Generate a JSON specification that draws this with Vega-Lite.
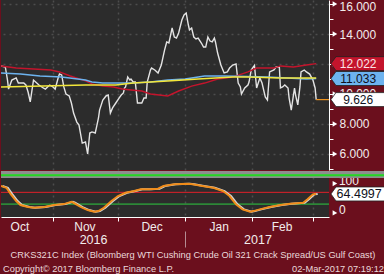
{
  "$schema": "https://vega.github.io/schema/vega-lite/v6.json",
  "background": "#6b0f1d",
  "padding": 0,
  "spacing": 0,
  "config": {
    "view": {"stroke": null},
    "font": "Liberation Sans",
    "axis": {"labelFont": "Liberation Sans", "labelFontSize": 12, "labelColor": "#f2ecec", "domainColor": "#ffffff", "tickColor": "#ffffff", "gridColor": "#4d4d4d", "gridDash": [2, 4], "gridWidth": 1.5}
  },
  "datasets": {
    "price": [
      {"date": "2016-10-08T00:00", "value": 11.87}, {"date": "2016-10-10T00:00", "value": 11.8}, {"date": "2016-10-11T00:00", "value": 10.93}, {"date": "2016-10-11T12:00", "value": 10.33},
      {"date": "2016-10-13T00:00", "value": 10.93}, {"date": "2016-10-15T00:00", "value": 11.07}, {"date": "2016-10-16T00:00", "value": 10.73}, {"date": "2016-10-18T12:00", "value": 10.73},
      {"date": "2016-10-19T12:00", "value": 10.6}, {"date": "2016-10-20T12:00", "value": 10.13}, {"date": "2016-10-21T12:00", "value": 9.47}, {"date": "2016-10-23T00:00", "value": 10.93},
      {"date": "2016-10-24T00:00", "value": 10.8}, {"date": "2016-10-25T12:00", "value": 10.6}, {"date": "2016-10-27T12:00", "value": 10.4}, {"date": "2016-10-28T12:00", "value": 10.33},
      {"date": "2016-10-29T12:00", "value": 10.47}, {"date": "2016-10-30T12:00", "value": 10.6}, {"date": "2016-11-01T00:00", "value": 10.47}, {"date": "2016-11-02T00:00", "value": 10.33},
      {"date": "2016-11-03T12:00", "value": 11.13}, {"date": "2016-11-04T00:00", "value": 11.33}, {"date": "2016-11-05T00:00", "value": 11.27}, {"date": "2016-11-06T00:00", "value": 10.47},
      {"date": "2016-11-07T00:00", "value": 10.0}, {"date": "2016-11-08T12:00", "value": 9.87}, {"date": "2016-11-09T12:00", "value": 9.4}, {"date": "2016-11-10T12:00", "value": 8.73},
      {"date": "2016-11-12T00:00", "value": 8.13}, {"date": "2016-11-13T00:00", "value": 7.93}, {"date": "2016-11-14T12:00", "value": 6.73}, {"date": "2016-11-16T00:00", "value": 6.8},
      {"date": "2016-11-17T00:00", "value": 6.0}, {"date": "2016-11-18T00:00", "value": 7.4}, {"date": "2016-11-19T00:00", "value": 7.47}, {"date": "2016-11-20T12:00", "value": 7.4},
      {"date": "2016-11-21T00:00", "value": 7.73}, {"date": "2016-11-22T00:00", "value": 8.4}, {"date": "2016-11-22T12:00", "value": 8.93}, {"date": "2016-11-24T00:00", "value": 9.6},
      {"date": "2016-11-25T12:00", "value": 9.87}, {"date": "2016-11-26T12:00", "value": 9.93}, {"date": "2016-11-27T12:00", "value": 8.73}, {"date": "2016-11-28T12:00", "value": 9.07},
      {"date": "2016-11-30T00:00", "value": 9.4}, {"date": "2016-12-01T12:00", "value": 9.73}, {"date": "2016-12-02T12:00", "value": 9.93}, {"date": "2016-12-03T12:00", "value": 10.07},
      {"date": "2016-12-04T00:00", "value": 10.4}, {"date": "2016-12-04T12:00", "value": 10.47}, {"date": "2016-12-05T12:00", "value": 11.13}, {"date": "2016-12-06T12:00", "value": 10.93},
      {"date": "2016-12-07T00:00", "value": 11.0}, {"date": "2016-12-08T00:00", "value": 10.8}, {"date": "2016-12-09T00:00", "value": 10.8}, {"date": "2016-12-10T00:00", "value": 9.4},
      {"date": "2016-12-11T00:00", "value": 9.4}, {"date": "2016-12-12T00:00", "value": 9.4}, {"date": "2016-12-13T00:00", "value": 9.73}, {"date": "2016-12-14T00:00", "value": 9.73},
      {"date": "2016-12-14T12:00", "value": 10.8}, {"date": "2016-12-16T00:00", "value": 11.6}, {"date": "2016-12-16T12:00", "value": 11.73}, {"date": "2016-12-18T00:00", "value": 11.6},
      {"date": "2016-12-19T12:00", "value": 11.4}, {"date": "2016-12-21T00:00", "value": 11.93}, {"date": "2016-12-22T12:00", "value": 12.93}, {"date": "2016-12-23T12:00", "value": 13.47},
      {"date": "2016-12-24T12:00", "value": 13.4}, {"date": "2016-12-26T00:00", "value": 14.4}, {"date": "2016-12-27T00:00", "value": 13.8}, {"date": "2016-12-28T00:00", "value": 13.73},
      {"date": "2016-12-29T00:00", "value": 14.07}, {"date": "2016-12-30T12:00", "value": 14.93}, {"date": "2016-12-31T12:00", "value": 15.27}, {"date": "2017-01-01T12:00", "value": 15.4},
      {"date": "2017-01-02T12:00", "value": 14.6}, {"date": "2017-01-03T00:00", "value": 14.27}, {"date": "2017-01-04T00:00", "value": 14.4}, {"date": "2017-01-05T00:00", "value": 13.8},
      {"date": "2017-01-06T00:00", "value": 13.67}, {"date": "2017-01-07T00:00", "value": 13.73}, {"date": "2017-01-08T12:00", "value": 13.4}, {"date": "2017-01-09T12:00", "value": 13.13},
      {"date": "2017-01-10T12:00", "value": 13.13}, {"date": "2017-01-11T12:00", "value": 13.8}, {"date": "2017-01-12T12:00", "value": 13.53}, {"date": "2017-01-13T12:00", "value": 13.47},
      {"date": "2017-01-14T12:00", "value": 13.73}, {"date": "2017-01-15T00:00", "value": 13.47}, {"date": "2017-01-16T00:00", "value": 12.73}, {"date": "2017-01-17T12:00", "value": 11.93},
      {"date": "2017-01-19T00:00", "value": 11.4}, {"date": "2017-01-20T12:00", "value": 11.47}, {"date": "2017-01-21T12:00", "value": 11.73}, {"date": "2017-01-23T00:00", "value": 11.93},
      {"date": "2017-01-24T12:00", "value": 12.0}, {"date": "2017-01-25T12:00", "value": 10.73}, {"date": "2017-01-26T12:00", "value": 10.47}, {"date": "2017-01-27T00:00", "value": 10.0},
      {"date": "2017-01-28T12:00", "value": 10.4}, {"date": "2017-01-30T00:00", "value": 10.6}, {"date": "2017-01-30T12:00", "value": 10.8}, {"date": "2017-01-31T12:00", "value": 11.6},
      {"date": "2017-02-02T00:00", "value": 11.9}, {"date": "2017-02-03T00:00", "value": 10.4}, {"date": "2017-02-04T12:00", "value": 11.07}, {"date": "2017-02-05T12:00", "value": 10.73},
      {"date": "2017-02-07T00:00", "value": 9.8}, {"date": "2017-02-08T00:00", "value": 9.6}, {"date": "2017-02-09T00:00", "value": 11.47}, {"date": "2017-02-11T00:00", "value": 11.6},
      {"date": "2017-02-12T00:00", "value": 11.8}, {"date": "2017-02-13T12:00", "value": 11.8}, {"date": "2017-02-14T00:00", "value": 10.4}, {"date": "2017-02-15T00:00", "value": 10.47},
      {"date": "2017-02-16T00:00", "value": 10.6}, {"date": "2017-02-17T12:00", "value": 10.4}, {"date": "2017-02-18T00:00", "value": 9.73}, {"date": "2017-02-19T00:00", "value": 8.93},
      {"date": "2017-02-20T00:00", "value": 9.93}, {"date": "2017-02-20T12:00", "value": 10.4}, {"date": "2017-02-21T00:00", "value": 9.93}, {"date": "2017-02-22T00:00", "value": 9.27},
      {"date": "2017-02-23T00:00", "value": 10.47}, {"date": "2017-02-23T12:00", "value": 11.47}, {"date": "2017-02-25T00:00", "value": 11.6}, {"date": "2017-02-26T00:00", "value": 11.47},
      {"date": "2017-02-27T12:00", "value": 11.33}, {"date": "2017-03-01T00:00", "value": 10.93}, {"date": "2017-03-02T00:00", "value": 10.4}, {"date": "2017-03-02T12:00", "value": 9.626}
    ],
    "ma": [
      {"series": "MA1", "date": "2016-10-08T00:00", "value": 11.87}, {"series": "MA1", "date": "2016-10-15T00:00", "value": 11.73}, {"series": "MA1", "date": "2016-10-31T00:00", "value": 11.6},
      {"series": "MA1", "date": "2016-11-04T00:00", "value": 11.47}, {"series": "MA1", "date": "2016-11-09T00:00", "value": 11.2}, {"series": "MA1", "date": "2016-11-16T00:00", "value": 10.87},
      {"series": "MA1", "date": "2016-11-19T00:00", "value": 10.67}, {"series": "MA1", "date": "2016-11-24T00:00", "value": 10.53}, {"series": "MA1", "date": "2016-11-29T00:00", "value": 10.47},
      {"series": "MA1", "date": "2016-12-03T00:00", "value": 10.33}, {"series": "MA1", "date": "2016-12-07T00:00", "value": 10.27}, {"series": "MA1", "date": "2016-12-12T00:00", "value": 10.2},
      {"series": "MA1", "date": "2016-12-16T00:00", "value": 10.0}, {"series": "MA1", "date": "2016-12-20T00:00", "value": 9.93}, {"series": "MA1", "date": "2016-12-24T00:00", "value": 9.87},
      {"series": "MA1", "date": "2016-12-29T00:00", "value": 10.2}, {"series": "MA1", "date": "2017-01-04T00:00", "value": 10.53}, {"series": "MA1", "date": "2017-01-10T00:00", "value": 10.73},
      {"series": "MA1", "date": "2017-01-16T00:00", "value": 11.0}, {"series": "MA1", "date": "2017-01-23T00:00", "value": 11.13}, {"series": "MA1", "date": "2017-01-30T00:00", "value": 11.47},
      {"series": "MA1", "date": "2017-02-03T00:00", "value": 11.73}, {"series": "MA1", "date": "2017-02-11T00:00", "value": 11.73}, {"series": "MA1", "date": "2017-02-14T00:00", "value": 11.87},
      {"series": "MA1", "date": "2017-02-20T00:00", "value": 11.8}, {"series": "MA1", "date": "2017-02-26T00:00", "value": 11.93}, {"series": "MA1", "date": "2017-03-02T12:00", "value": 12.022},
      {"series": "MA2", "date": "2016-10-08T00:00", "value": 11.4}, {"series": "MA2", "date": "2016-10-17T00:00", "value": 11.33}, {"series": "MA2", "date": "2016-10-26T00:00", "value": 11.2},
      {"series": "MA2", "date": "2016-11-05T00:00", "value": 11.13}, {"series": "MA2", "date": "2016-11-16T00:00", "value": 10.93}, {"series": "MA2", "date": "2016-11-19T00:00", "value": 10.8},
      {"series": "MA2", "date": "2016-11-24T00:00", "value": 10.73}, {"series": "MA2", "date": "2016-11-30T00:00", "value": 10.73}, {"series": "MA2", "date": "2016-12-08T00:00", "value": 10.73},
      {"series": "MA2", "date": "2016-12-16T00:00", "value": 10.8}, {"series": "MA2", "date": "2016-12-24T00:00", "value": 10.93}, {"series": "MA2", "date": "2017-01-01T00:00", "value": 11.0},
      {"series": "MA2", "date": "2017-01-10T00:00", "value": 11.2}, {"series": "MA2", "date": "2017-01-19T00:00", "value": 11.2}, {"series": "MA2", "date": "2017-01-30T00:00", "value": 11.17},
      {"series": "MA2", "date": "2017-02-08T00:00", "value": 11.13}, {"series": "MA2", "date": "2017-02-17T00:00", "value": 11.07}, {"series": "MA2", "date": "2017-02-26T00:00", "value": 11.0},
      {"series": "MA2", "date": "2017-03-02T12:00", "value": 11.033},
      {"series": "MA3", "date": "2016-10-08T00:00", "value": 10.47}, {"series": "MA3", "date": "2016-11-16T00:00", "value": 10.6}, {"series": "MA3", "date": "2016-11-30T00:00", "value": 10.6},
      {"series": "MA3", "date": "2016-12-08T00:00", "value": 10.73}, {"series": "MA3", "date": "2016-12-24T00:00", "value": 10.87}, {"series": "MA3", "date": "2017-01-07T00:00", "value": 11.0},
      {"series": "MA3", "date": "2017-01-23T00:00", "value": 11.13}, {"series": "MA3", "date": "2017-01-30T00:00", "value": 11.13}, {"series": "MA3", "date": "2017-02-14T00:00", "value": 11.07},
      {"series": "MA3", "date": "2017-02-22T00:00", "value": 11.07}, {"series": "MA3", "date": "2017-03-02T12:00", "value": 11.07}
    ],
    "rsi": [
      {"date": "2016-10-08T00:00", "value": 91.5}, {"date": "2016-10-10T12:00", "value": 85.7}, {"date": "2016-10-12T12:00", "value": 64.2}, {"date": "2016-10-15T00:00", "value": 40.3},
      {"date": "2016-10-17T00:00", "value": 26.6}, {"date": "2016-10-20T12:00", "value": 19.8}, {"date": "2016-10-23T00:00", "value": 17.4}, {"date": "2016-10-28T00:00", "value": 19.8},
      {"date": "2016-11-01T12:00", "value": 26.6}, {"date": "2016-11-06T00:00", "value": 30.0}, {"date": "2016-11-09T12:00", "value": 37.9}, {"date": "2016-11-10T12:00", "value": 34.5},
      {"date": "2016-11-14T00:00", "value": 19.8}, {"date": "2016-11-17T00:00", "value": 9.6}, {"date": "2016-11-20T00:00", "value": 3.8}, {"date": "2016-11-22T00:00", "value": 6.1},
      {"date": "2016-11-24T12:00", "value": 17.4}, {"date": "2016-11-28T00:00", "value": 40.3}, {"date": "2016-12-01T00:00", "value": 57.3}, {"date": "2016-12-04T12:00", "value": 68.6},
      {"date": "2016-12-08T12:00", "value": 74.4}, {"date": "2016-12-11T12:00", "value": 80.2}, {"date": "2016-12-15T12:00", "value": 80.2}, {"date": "2016-12-19T12:00", "value": 82.3},
      {"date": "2016-12-22T00:00", "value": 91.5}, {"date": "2016-12-27T00:00", "value": 97.3}, {"date": "2017-01-02T12:00", "value": 99.3}, {"date": "2017-01-04T12:00", "value": 97.3},
      {"date": "2017-01-09T00:00", "value": 91.5}, {"date": "2017-01-14T00:00", "value": 85.7}, {"date": "2017-01-18T12:00", "value": 74.4}, {"date": "2017-01-21T12:00", "value": 57.3},
      {"date": "2017-01-24T12:00", "value": 29.0}, {"date": "2017-01-27T12:00", "value": 11.9}, {"date": "2017-01-31T00:00", "value": 3.8}, {"date": "2017-02-01T12:00", "value": 6.1},
      {"date": "2017-02-04T12:00", "value": 11.9}, {"date": "2017-02-09T00:00", "value": 19.8}, {"date": "2017-02-14T00:00", "value": 26.6}, {"date": "2017-02-18T12:00", "value": 31.1},
      {"date": "2017-02-24T12:00", "value": 34.5}, {"date": "2017-02-26T12:00", "value": 46.1}, {"date": "2017-03-01T00:00", "value": 63.1}, {"date": "2017-03-02T12:00", "value": 64.4997}
    ],
    "levels": [{"value": 70, "kind": "upper"}, {"value": 30, "kind": "lower"}],
    "mainlabels": [
      {"date": "2017-03-02T12:00", "value": 12.022, "label": "12.022", "kind": "MA1"},
      {"date": "2017-03-02T12:00", "value": 11.033, "label": "11.033", "kind": "MA2"},
      {"date": "2017-03-02T12:00", "value": 9.626, "label": "9.626", "kind": "Price"}
    ],
    "rsilabel": [{"date": "2017-03-02T12:00", "value": 64.4997, "label": "64.4997"}],
    "maintickmarks": [
      {"date": "2017-03-02T12:00", "value": 6}, {"date": "2017-03-02T12:00", "value": 8}, {"date": "2017-03-02T12:00", "value": 10},
      {"date": "2017-03-02T12:00", "value": 12}, {"date": "2017-03-02T12:00", "value": 14}, {"date": "2017-03-02T12:00", "value": 16}
    ],
    "rsitickmarks": [{"date": "2017-03-02T12:00", "value": 0, "label": "0"}, {"date": "2017-03-02T12:00", "value": 100, "label": "100"}],
    "footer": [
      {"pos": "center", "line": 1, "text": "CRKS321C Index (Bloomberg WTI Cushing Crude Oil 321 Crack Spread/US Gulf Coast)"},
      {"pos": "left", "line": 2, "text": "Copyright© 2017 Bloomberg Finance L.P."},
      {"pos": "right", "line": 2, "text": "02-Mar-2017 07:19:12"}
    ]
  },
  "vconcat": [
    {
      "width": 328,
      "height": 170,
      "view": {"fill": "#2c2c2c", "stroke": null},
      "encoding": {
        "x": {"field": "date", "type": "temporal", "title": null,
          "scale": {"domain": [{"year": 2016, "month": 10, "date": 8}, {"year": 2017, "month": 3, "date": 8, "hours": 10}]},
          "axis": {"values": [{"year": 2016, "month": 11, "date": 1}, {"year": 2016, "month": 12, "date": 1}, {"year": 2017, "month": 1, "date": 1}, {"year": 2017, "month": 2, "date": 1}, {"year": 2017, "month": 3, "date": 1}],
            "labels": false, "ticks": false, "domain": false, "grid": true, "zindex": 0}},
        "y": {"field": "value", "type": "quantitative", "title": null,
          "scale": {"domain": [4.933, 16.267], "nice": false, "zero": false},
          "axis": {"orient": "right", "values": [5, 6, 7, 8, 9, 10, 11, 12, 13, 14, 15, 16],
            "labelExpr": "datum.value % 2 === 0 ? format(datum.value, '.3f') : ''",
            "gridOpacity": {"condition": {"test": "datum.value % 2 === 0", "value": 1}, "value": 0},
            "tickSize": 4, "labelPadding": 6, "labelFlush": 5, "labelFlushOffset": 2.5, "labelOverlap": false, "grid": true, "zindex": 0}}
      },
      "layer": [
        {"data": {"name": "price"}, "mark": {"type": "line", "color": "#e4e4e4", "strokeWidth": 1.4, "clip": true}},
        {"data": {"name": "ma"}, "mark": {"type": "line", "strokeWidth": 1.4, "clip": true},
          "encoding": {"color": {"field": "series", "type": "nominal", "legend": null, "scale": {"domain": ["MA1", "MA2", "MA3"], "range": ["#c4142c", "#6db3ef", "#f2e63a"]}}}},
        {"data": {"name": "mainlabels"}, "transform": [{"filter": "datum.kind === 'Price'"}],
          "mark": {"type": "rule", "color": "#ee9420", "strokeWidth": 1.2},
          "encoding": {"x2": {"datum": {"year": 2017, "month": 3, "date": 8, "hours": 10}}}},
        {"data": {"name": "maintickmarks"}, "mark": {"type": "point", "shape": "triangle-right", "filled": true, "color": "#ffffff", "size": 28, "opacity": 1, "xOffset": 18.75}},
        {"data": {"name": "mainlabels"},
          "mark": {"type": "point", "shape": "M -1 0 L -0.82 -0.25 L 1 -0.25 L 1 0.25 L -0.82 0.25 Z", "filled": true, "size": 3136, "opacity": 1, "xOffset": 42.75, "stroke": "#222222", "strokeWidth": 0.8},
          "encoding": {"fill": {"field": "kind", "type": "nominal", "legend": null, "scale": {"domain": ["MA1", "MA2", "Price"], "range": ["#c4142c", "#6db3ef", "#ffffff"]}}}},
        {"data": {"name": "mainlabels"},
          "mark": {"type": "text", "align": "center", "baseline": "middle", "fontSize": 12, "xOffset": 42},
          "encoding": {"text": {"field": "label"},
            "color": {"condition": {"test": "datum.kind === 'MA1'", "value": "#fbe3e6"}, "value": "#101020"}}}
      ]
    },
    {
      "width": 328,
      "height": 46,
      "view": {"fill": "#2c2c2c", "stroke": null},
      "resolve": {"axis": {"x": "independent"}},
      "layer": [
        {"data": {"values": [{}]}, "mark": {"type": "rect", "color": "#8e8e8e"},
          "encoding": {
            "x": {"datum": {"year": 2016, "month": 10, "date": 8}, "type": "temporal", "title": null, "axis": null,
              "scale": {"domain": [{"year": 2016, "month": 10, "date": 8}, {"year": 2017, "month": 3, "date": 8, "hours": 10}]}},
            "x2": {"datum": {"year": 2017, "month": 4, "date": 5}},
            "y": {"datum": 118.8, "type": "quantitative", "title": null, "axis": null, "scale": {"domain": [-14, 142.7], "nice": false, "zero": false}},
            "y2": {"datum": 142.7}}},
        {"data": {"values": [{}]}, "mark": {"type": "rule", "color": "#22d822", "strokeWidth": 2},
          "encoding": {
            "x": {"datum": {"year": 2016, "month": 10, "date": 8}, "type": "temporal", "title": null, "axis": null,
              "scale": {"domain": [{"year": 2016, "month": 10, "date": 8}, {"year": 2017, "month": 3, "date": 8, "hours": 10}]}},
            "x2": {"datum": {"year": 2017, "month": 4, "date": 5}},
            "y": {"datum": 128, "type": "quantitative", "title": null, "axis": null, "scale": {"domain": [-14, 142.7], "nice": false, "zero": false}}}},
        {"data": {"name": "levels"}, "transform": [{"filter": "datum.kind === 'upper'"}], "mark": {"type": "rule", "color": "#e0202a", "strokeWidth": 1},
          "encoding": {"y": {"field": "value", "type": "quantitative", "title": null, "axis": null, "scale": {"domain": [-14, 142.7], "nice": false, "zero": false}}}},
        {"data": {"name": "levels"}, "transform": [{"filter": "datum.kind === 'lower'"}], "mark": {"type": "rule", "color": "#2ecc40", "strokeWidth": 1},
          "encoding": {"y": {"field": "value", "type": "quantitative", "title": null, "axis": null, "scale": {"domain": [-14, 142.7], "nice": false, "zero": false}}}},
        {"data": {"name": "rsi"}, "mark": {"type": "line", "color": "#d4d4d4", "strokeWidth": 2, "clip": true, "xOffset": 1.5},
          "encoding": {"x": {"field": "date", "type": "temporal", "title": null,
            "scale": {"domain": [{"year": 2016, "month": 10, "date": 8}, {"year": 2017, "month": 3, "date": 8, "hours": 10}]},
            "axis": {"orient": "bottom", "offset": 14, "domain": false, "grid": false,
              "values": [{"year": 2016, "month": 11, "date": 19, "hours": 12}, {"year": 2017, "month": 1, "date": 1}, {"year": 2017, "month": 2, "date": 3, "hours": 10}],
              "labelExpr": "(month(datum.value) === 0 && date(datum.value) === 1) ? '' : timeFormat(datum.value, '%Y')",
              "tickOpacity": {"condition": {"test": "month(datum.value) === 0 && date(datum.value) === 1", "value": 1}, "value": 0},
              "tickSize": 16, "tickColor": "#b58c93", "labelPadding": -14, "labelFontSize": 12.5, "labelOverlap": false, "labelFlush": false, "zindex": 0}},
            "y": {"field": "value", "type": "quantitative", "title": null, "axis": null, "scale": {"domain": [-14, 142.7], "nice": false, "zero": false}}}},
        {"data": {"name": "rsi"}, "mark": {"type": "line", "color": "#f08c1a", "strokeWidth": 2, "clip": true},
          "encoding": {"x": {"field": "date", "type": "temporal", "title": null,
            "scale": {"domain": [{"year": 2016, "month": 10, "date": 8}, {"year": 2017, "month": 3, "date": 8, "hours": 10}]},
            "axis": {"orient": "bottom", "domain": true, "grid": true,
              "values": [{"year": 2016, "month": 10, "date": 16, "hours": 12}, {"year": 2016, "month": 11, "date": 1}, {"year": 2016, "month": 11, "date": 15, "hours": 12},
                {"year": 2016, "month": 12, "date": 1}, {"year": 2016, "month": 12, "date": 16, "hours": 12}, {"year": 2017, "month": 1, "date": 1},
                {"year": 2017, "month": 1, "date": 16, "hours": 12}, {"year": 2017, "month": 2, "date": 1}, {"year": 2017, "month": 2, "date": 14, "hours": 12}, {"year": 2017, "month": 3, "date": 1}],
              "labelExpr": "date(datum.value) === 1 ? '' : timeFormat(datum.value, '%b')",
              "tickOpacity": {"condition": {"test": "date(datum.value) === 1", "value": 1}, "value": 0},
              "gridOpacity": {"condition": {"test": "date(datum.value) === 1", "value": 1}, "value": 0},
              "tickSize": 4, "labelPadding": 0, "labelOverlap": false, "labelFlush": false, "zindex": 0}},
            "y": {"field": "value", "type": "quantitative", "title": null, "scale": {"domain": [-14, 142.7], "nice": false, "zero": false},
              "axis": {"orient": "right", "values": [0, 100], "labels": false, "ticks": true, "tickSize": 4, "grid": true, "zindex": 0}}}},
        {"data": {"name": "rsitickmarks"}, "mark": {"type": "point", "shape": "triangle-right", "filled": true, "color": "#ffffff", "size": 28, "opacity": 1, "xOffset": 18.75},
          "encoding": {"x": {"field": "date", "type": "temporal", "title": null, "axis": null,
            "scale": {"domain": [{"year": 2016, "month": 10, "date": 8}, {"year": 2017, "month": 3, "date": 8, "hours": 10}]}},
            "y": {"field": "value", "type": "quantitative", "title": null, "axis": null, "scale": {"domain": [-14, 142.7], "nice": false, "zero": false}}}},
        {"data": {"name": "rsitickmarks"}, "mark": {"type": "text", "align": "left", "baseline": "middle", "fontSize": 12, "color": "#f2ecec", "xOffset": 22.75, "yOffset": -2.5},
          "encoding": {"text": {"field": "label"},
            "x": {"field": "date", "type": "temporal", "title": null, "axis": null,
              "scale": {"domain": [{"year": 2016, "month": 10, "date": 8}, {"year": 2017, "month": 3, "date": 8, "hours": 10}]}},
            "y": {"field": "value", "type": "quantitative", "title": null, "axis": null, "scale": {"domain": [-14, 142.7], "nice": false, "zero": false}}}},
        {"data": {"values": [{}]}, "mark": {"type": "rect", "color": "#8e8e8e"},
          "encoding": {
            "x": {"datum": {"year": 2017, "month": 3, "date": 8, "hours": 10}, "type": "temporal", "title": null, "axis": null,
              "scale": {"domain": [{"year": 2016, "month": 10, "date": 8}, {"year": 2017, "month": 3, "date": 8, "hours": 10}]}},
            "x2": {"datum": {"year": 2017, "month": 4, "date": 5}},
            "y": {"datum": 118.8, "type": "quantitative", "title": null, "axis": null, "scale": {"domain": [-14, 142.7], "nice": false, "zero": false}},
            "y2": {"datum": 142.7}}},
        {"data": {"values": [{}]}, "mark": {"type": "rule", "color": "#22d822", "strokeWidth": 2},
          "encoding": {
            "x": {"datum": {"year": 2017, "month": 3, "date": 8, "hours": 10}, "type": "temporal", "title": null, "axis": null,
              "scale": {"domain": [{"year": 2016, "month": 10, "date": 8}, {"year": 2017, "month": 3, "date": 8, "hours": 10}]}},
            "x2": {"datum": {"year": 2017, "month": 4, "date": 5}},
            "y": {"datum": 128, "type": "quantitative", "title": null, "axis": null, "scale": {"domain": [-14, 142.7], "nice": false, "zero": false}}}},
        {"data": {"name": "rsilabel"},
          "mark": {"type": "point", "shape": "M -1 0 L -0.82 -0.25 L 1 -0.25 L 1 0.25 L -0.82 0.25 Z", "filled": true, "size": 3136, "opacity": 1, "xOffset": 42.75, "fill": "#ffffff", "stroke": "#222222", "strokeWidth": 0.8},
          "encoding": {"x": {"field": "date", "type": "temporal", "title": null, "axis": null,
            "scale": {"domain": [{"year": 2016, "month": 10, "date": 8}, {"year": 2017, "month": 3, "date": 8, "hours": 10}]}},
            "y": {"field": "value", "type": "quantitative", "title": null, "axis": null, "scale": {"domain": [-14, 142.7], "nice": false, "zero": false}}}},
        {"data": {"name": "rsilabel"},
          "mark": {"type": "text", "align": "center", "baseline": "middle", "fontSize": 12.5, "xOffset": 43, "color": "#101020"},
          "encoding": {"text": {"field": "label"},
            "x": {"field": "date", "type": "temporal", "title": null, "axis": null,
              "scale": {"domain": [{"year": 2016, "month": 10, "date": 8}, {"year": 2017, "month": 3, "date": 8, "hours": 10}]}},
            "y": {"field": "value", "type": "quantitative", "title": null, "axis": null, "scale": {"domain": [-14, 142.7], "nice": false, "zero": false}}}}
      ]
    },
    {
      "width": 384,
      "height": 28,
      "data": {"name": "footer"},
      "encoding": {
        "x": {"field": "pos", "type": "nominal", "axis": null, "scale": {"type": "point", "domain": ["left", "center", "right"], "padding": 0}},
        "y": {"field": "line", "type": "ordinal", "axis": null, "scale": {"type": "point", "domain": [1, 2], "padding": 0.5}},
        "text": {"field": "text"}
      },
      "layer": [
        {"transform": [{"filter": "datum.pos === 'center'"}], "mark": {"type": "text", "align": "center", "baseline": "middle", "fontSize": 9.3, "color": "#ead8da"}},
        {"transform": [{"filter": "datum.pos === 'left'"}], "mark": {"type": "text", "align": "left", "baseline": "middle", "fontSize": 9.3, "color": "#ead8da", "dx": 2}},
        {"transform": [{"filter": "datum.pos === 'right'"}], "mark": {"type": "text", "align": "right", "baseline": "middle", "fontSize": 9.3, "color": "#ead8da", "dx": -1}}
      ]
    }
  ]
}
